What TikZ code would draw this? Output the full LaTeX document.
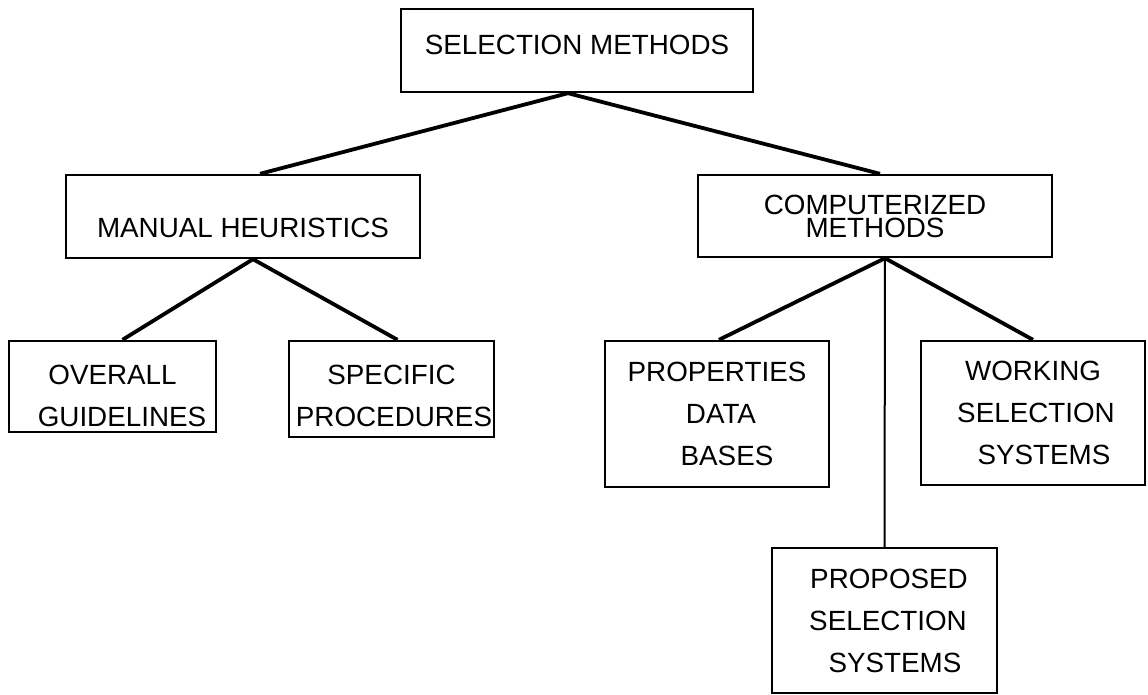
\documentclass[tikz,border=0pt]{standalone}
\usepackage{fontspec}
\setmainfont{Liberation Sans}
\usepackage{tikz}

\begin{document}
\begin{tikzpicture}[
	x=0.5pt, y=-0.5pt,
	every node/.style={font=\fontsize{13.9}{21}\selectfont},
	boxnode/.style={shape=rectangle, draw=black, line width=1.2pt, inner sep=0pt, align=center},
	thickline/.style={line width=1.9pt},
	thinline/.style={line width=1pt},
]
\useasboundingbox (0,0) rectangle (1148,695);

\node[boxnode, minimum width=176pt, minimum height=41.5pt, text depth=6pt] (sel) at (577,50.5) {SELECTION METHODS};
\node[boxnode, minimum width=177pt, minimum height=41.5pt, text height=21.5pt] (man) at (243,216.5) {MANUAL HEURISTICS};
\node[boxnode, minimum width=177pt, minimum height=41pt] (comp) at (875,216) {COMPUTERIZED\\[-9.5pt]METHODS};

\node[boxnode, minimum width=103.5pt, minimum height=45.5pt] (over) at (112.5,386.5) {\rule{0pt}{19pt}OVERALL\hspace{1.5pt}\\\hspace{9.5pt}GUIDELINES};
\node[boxnode, minimum width=102.5pt, minimum height=48pt] (spec) at (391.5,389) {\rule{0pt}{16.5pt}SPECIFIC\hspace{4.5pt}\\\hspace{2.5pt}PROCEDURES};

\node[boxnode, minimum width=112pt, minimum height=73pt] (prop) at (717,414) {PROPERTIES\hspace{2pt}\\\hspace{4pt}DATA\\\hspace{10pt}BASES};
\node[boxnode, minimum width=112pt, minimum height=72pt] (work) at (1033,413) {WORKING\hspace{7pt}\\\hspace{3pt}SELECTION\\\hspace{11pt}SYSTEMS};
\node[boxnode, minimum width=112.5pt, minimum height=72.5pt] (prop2) at (884.5,620.5) {\hspace{4.5pt}PROPOSED\\\hspace{3.5pt}SELECTION\\\hspace{10.5pt}SYSTEMS};

% connectors
\draw[thickline] ([xshift=8.5pt]man.north) -- ([xshift=-4.5pt]sel.south) -- ([xshift=2.5pt]comp.north);
\draw[thickline] ([xshift=5pt]over.north) -- ([xshift=5pt]man.south) -- ([xshift=3pt]spec.north);
\draw[thickline] ([xshift=1pt]prop.north) -- ([xshift=5pt]comp.south) -- (work.north);
\draw[thinline] ([xshift=5pt]comp.south) -- (prop2.north);
\end{tikzpicture}
\end{document}
